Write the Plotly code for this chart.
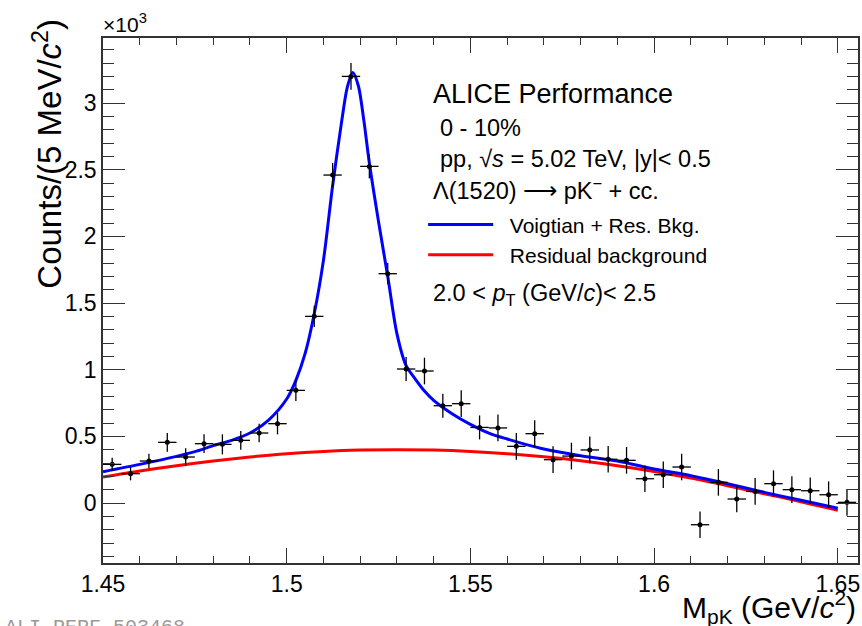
import plotly.graph_objects as go

# ---------------- data (counts in units of 10^3) ----------------
bin_centers = [1.4525, 1.4575, 1.4625, 1.4675, 1.4725, 1.4775, 1.4825, 1.4875, 1.4925, 1.4975,
               1.5025, 1.5075, 1.5125, 1.5175, 1.5225, 1.5275, 1.5325, 1.5375, 1.5425, 1.5475,
               1.5525, 1.5575, 1.5625, 1.5675, 1.5725, 1.5775, 1.5825, 1.5875, 1.5925, 1.5975,
               1.6025, 1.6075, 1.6125, 1.6175, 1.6225, 1.6275, 1.6325, 1.6375, 1.6425, 1.6475,
               1.6525]
counts = [0.29, 0.22, 0.315, 0.455, 0.345, 0.445, 0.44, 0.47, 0.525, 0.595,
          0.845, 1.40, 2.46, 3.20, 2.525, 1.72, 1.005, 0.99, 0.73, 0.745,
          0.567, 0.563, 0.425, 0.52, 0.325, 0.352, 0.398, 0.328, 0.32, 0.182,
          0.212, 0.27, -0.163, 0.155, 0.03, 0.087, 0.145, 0.10, 0.092, 0.062,
          0.005]
count_err = [0.05, 0.05, 0.055, 0.07, 0.065, 0.07, 0.075, 0.07, 0.07, 0.08,
             0.08, 0.08, 0.09, 0.10, 0.09, 0.08, 0.09, 0.10, 0.09, 0.10,
             0.09, 0.10, 0.10, 0.10, 0.10, 0.10, 0.10, 0.10, 0.10, 0.10,
             0.10, 0.10, 0.10, 0.10, 0.10, 0.10, 0.10, 0.10, 0.10, 0.10,
             0.10]
bin_half_width = [0.0025] * len(bin_centers)

fit_x = [1.450, 1.460, 1.470, 1.475, 1.480, 1.485, 1.490, 1.495, 1.500, 1.5025,
         1.505, 1.5075, 1.510, 1.5125, 1.515, 1.5165, 1.518, 1.5195, 1.521, 1.5225,
         1.525, 1.5275, 1.530, 1.5325, 1.535, 1.5375, 1.540, 1.545, 1.550, 1.555,
         1.560, 1.565, 1.570, 1.580, 1.590, 1.600, 1.610, 1.620, 1.630, 1.640, 1.650]
fit_y = [0.235, 0.29, 0.35, 0.385, 0.43, 0.47, 0.525, 0.62, 0.78, 0.92,
         1.12, 1.42, 1.82, 2.38, 2.87, 3.12, 3.23, 3.13, 2.87, 2.55,
         2.11, 1.70, 1.27, 1.03, 0.93, 0.84, 0.77, 0.67, 0.59, 0.525,
         0.48, 0.44, 0.405, 0.355, 0.315, 0.255, 0.205, 0.145, 0.08, 0.02, -0.04]

bkg_x = [1.45, 1.46, 1.47, 1.48, 1.49, 1.50, 1.51, 1.52, 1.53, 1.54, 1.55,
         1.56, 1.57, 1.58, 1.59, 1.60, 1.61, 1.62, 1.63, 1.64, 1.65]
bkg_y = [0.195, 0.24, 0.28, 0.315, 0.345, 0.37, 0.387, 0.397, 0.40, 0.397, 0.387,
         0.37, 0.347, 0.317, 0.28, 0.237, 0.187, 0.13, 0.07, 0.01, -0.055]

x_tickvals = [1.45, 1.5, 1.55, 1.6, 1.65]
x_ticktext = ["1.45", "1.5", "1.55", "1.6", "1.65"]
y_tickvals = [0, 0.5, 1, 1.5, 2, 2.5, 3]
y_ticktext = ["0", "0.5", "1", "1.5", "2", "2.5", "3"]

# ---------------- layout helpers ----------------
W, H = 862, 626
L, R, T, B = 103, 860, 37.5, 563.3


def xp(px):
    return (px - L) / (R - L)


def yp(py):
    return (B - py) / (B - T)


FONT = "Liberation Sans, Arial, Helvetica, sans-serif"
AXC = "#333333"
NB = "\u00a0\u00a0"

fig = go.Figure()

fig.add_trace(go.Scatter(
    x=bkg_x, y=bkg_y, mode="lines", name=NB + "Residual background",
    line=dict(color="#ff0000", width=3, shape="spline", smoothing=0.8),
    showlegend=True, legendrank=2))
fig.add_trace(go.Scatter(
    x=fit_x, y=fit_y, mode="lines", name=NB + "Voigtian + Res. Bkg.",
    line=dict(color="#0000ff", width=3, shape="spline", smoothing=0.8),
    showlegend=True, legendrank=1))
fig.add_trace(go.Scatter(
    x=bin_centers, y=counts, mode="markers", name="data", showlegend=False,
    marker=dict(color="black", size=5),
    error_x=dict(type="data", array=bin_half_width, color="black", thickness=1.3, width=0),
    error_y=dict(type="data", array=count_err, color="black", thickness=1.3, width=0)))

fig.update_layout(
    width=W, height=H,
    margin=dict(l=L, r=W - R, t=T, b=H - B),
    paper_bgcolor="white", plot_bgcolor="white",
    font=dict(family=FONT, color="black"),
    showlegend=True,
    legend=dict(x=xp(424), y=yp(204), xanchor="left", yanchor="top",
                bgcolor="rgba(0,0,0,0)", font=dict(size=21, family=FONT),
                itemwidth=65, tracegroupgap=0, traceorder="normal"),
)

fig.update_xaxes(
    range=[1.45, 1.6555], showgrid=False, zeroline=False,
    showline=True, linecolor=AXC, linewidth=1.5, mirror="allticks",
    ticks="inside", ticklen=15, tickwidth=1.3, tickcolor=AXC,
    tickvals=x_tickvals, ticktext=x_ticktext,
    tickfont=dict(size=23, family=FONT, color="black"),
    minor=dict(ticks="inside", dtick=0.01, tick0=1.45, ticklen=7, tickwidth=1.3, tickcolor=AXC),
)
fig.update_yaxes(
    range=[-0.45, 3.488], showgrid=False, zeroline=False,
    showline=True, linecolor=AXC, linewidth=1.5, mirror="allticks",
    ticks="inside", ticklen=22, tickwidth=1.3, tickcolor=AXC,
    tickvals=y_tickvals, ticktext=y_ticktext,
    tickfont=dict(size=23, family=FONT, color="black"),
    minor=dict(ticks="inside", dtick=0.1, tick0=0, ticklen=11, tickwidth=1.3, tickcolor=AXC),
)

ann = []


def text(s, px, py, size, xanchor="left", yanchor="middle", **kw):
    ann.append(dict(text=s, x=xp(px), y=yp(py), xref="paper", yref="paper",
                    xanchor=xanchor, yanchor=yanchor, showarrow=False,
                    font=dict(size=size, family=kw.pop("family", FONT), color=kw.pop("color", "black")),
                    **kw))


text("ALICE Performance", 432, 94, 27)
text("0 - 10%", 439, 128, 23.5)
text("pp, √<i>s</i> = 5.02 TeV, |y|&lt; 0.5", 439, 159, 23.5)
text("Λ(1520) ⟶ pK<sup>−</sup> + cc.", 432, 189, 23.5)
text("2.0 &lt; <i>p</i><sub>T</sub> (GeV/<i>c</i>)&lt; 2.5", 432, 294, 23.5)
text("×10<sup>3</sup>", 101, 37, 21, yanchor="bottom")
text("M<sub>pK</sub> (GeV/<i>c</i><sup>2</sup>)", 860, 607, 30, xanchor="right")
text("Counts/(5 MeV/<i>c</i><sup>2</sup>)", 47, 16, 33, xanchor="center", yanchor="top", textangle=-90)
text("ALI-PERF-503468", 3, 614, 20, yanchor="top", family="Liberation Mono, Courier New, monospace",
     color="#9a9a9a")

fig.update_layout(annotations=ann)

fig.write_html("out.html")
